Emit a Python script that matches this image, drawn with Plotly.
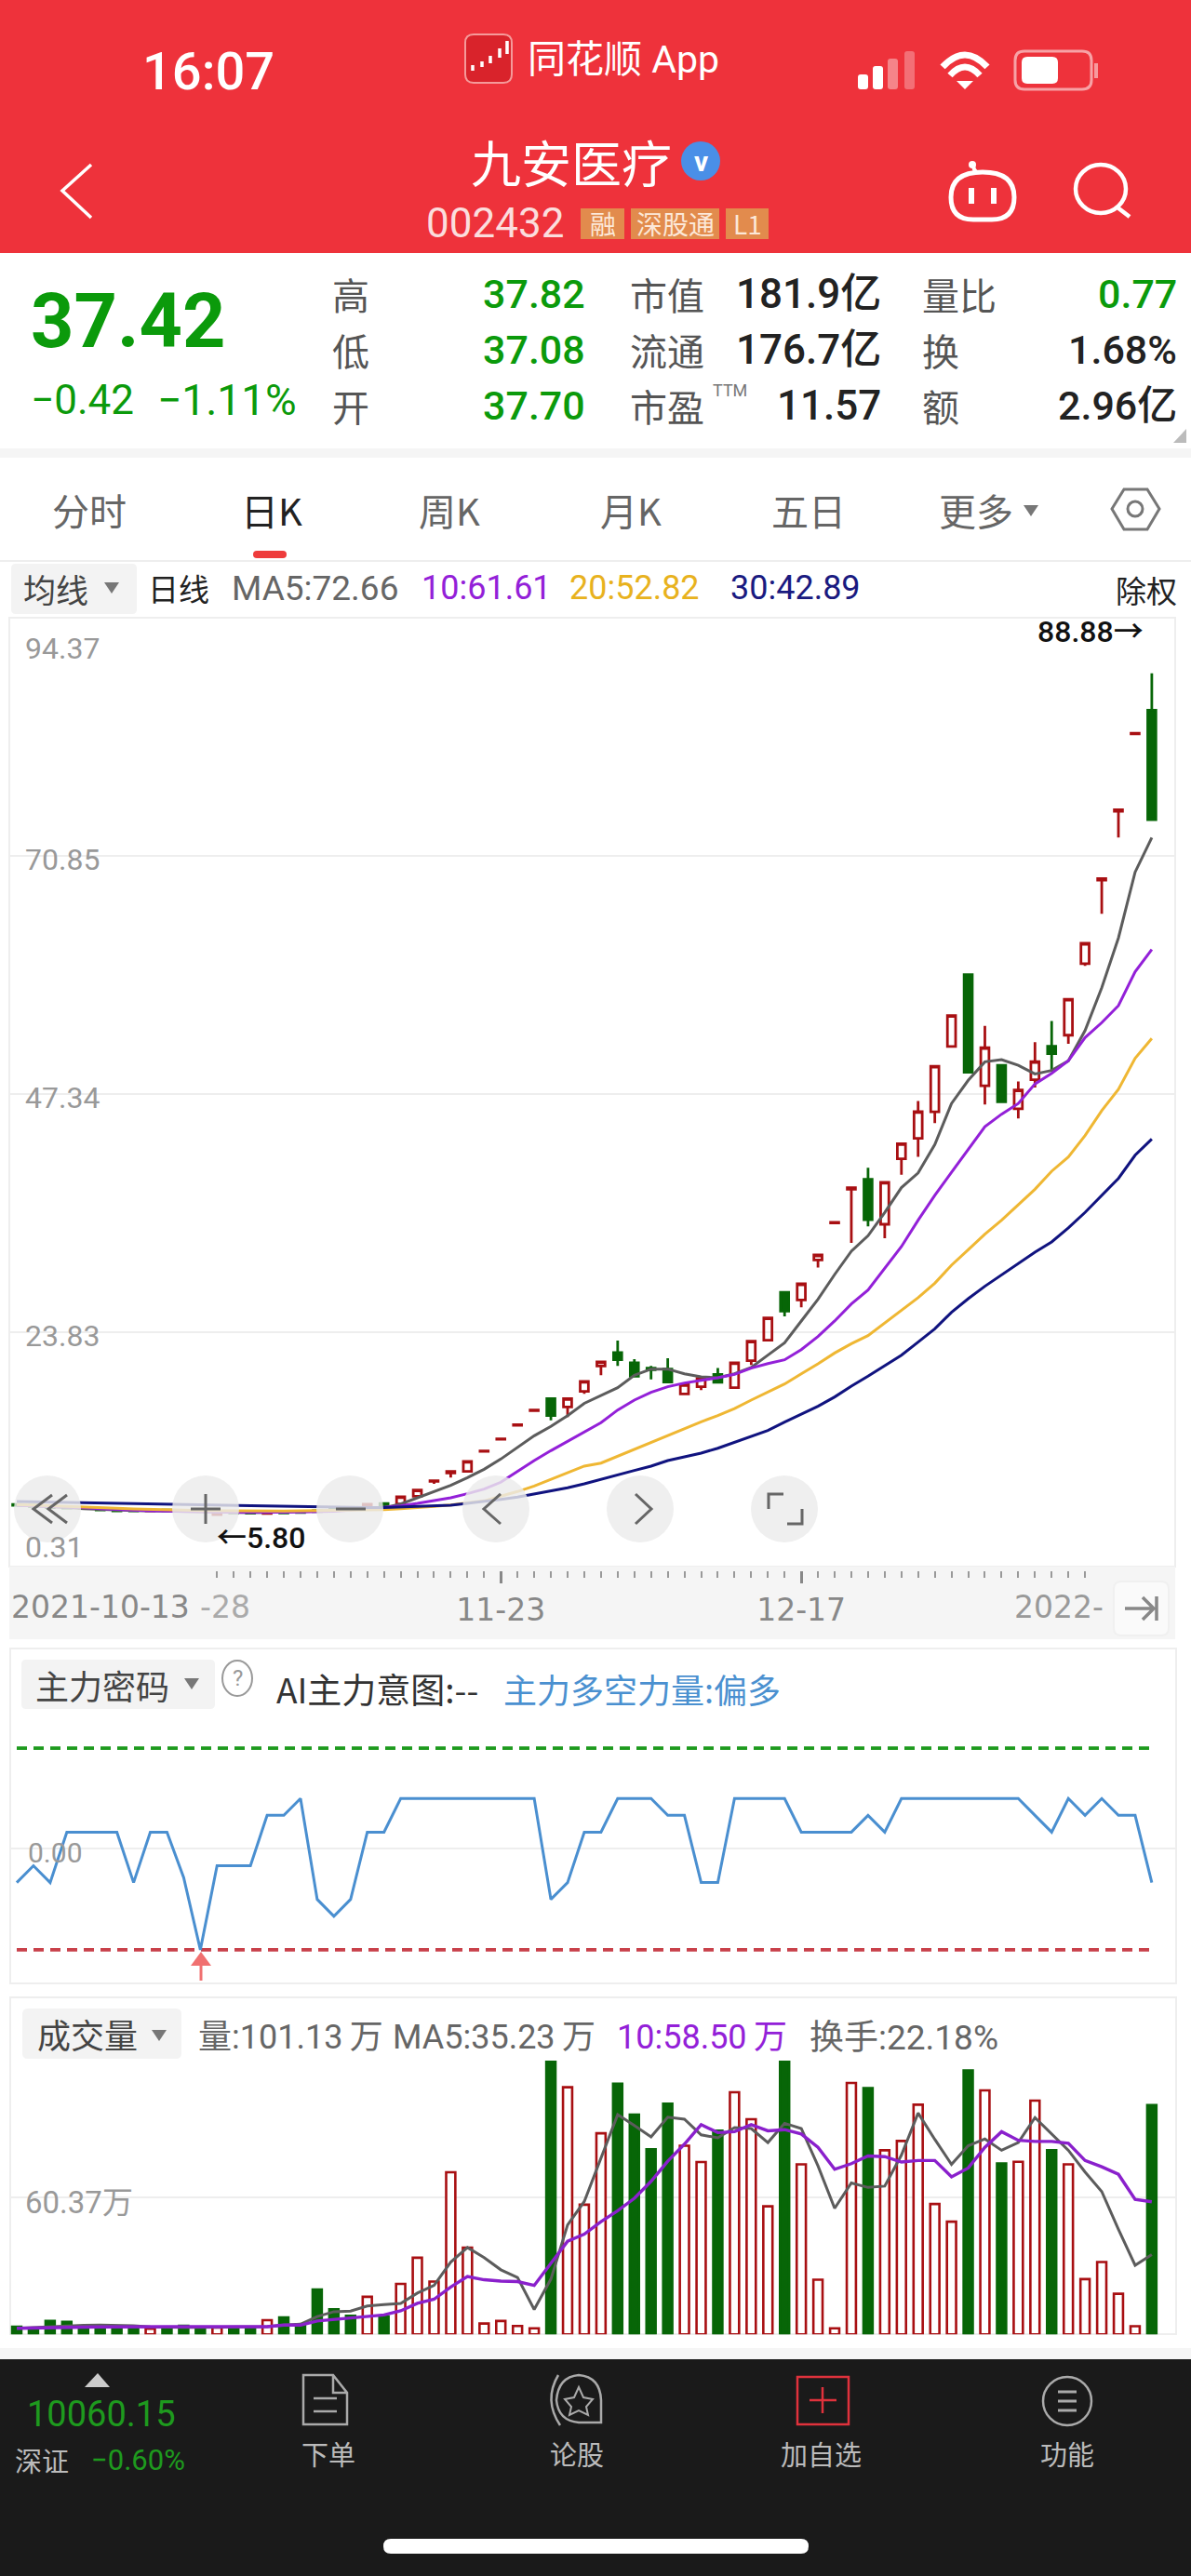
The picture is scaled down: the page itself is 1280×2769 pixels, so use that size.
import re
import plotly.graph_objects as go

W, H = 1280, 2769

# candles, one per trading day
opens = [6.82, 6.75, 6.65, 6.55, 6.50, 6.38, 6.28, 6.28, 6.18, 6.26, 6.22, 6.34, 5.82, 6.05, 6.00, 5.92, 6.05, 6.10, 6.20, 6.40, 6.45, 6.60, 6.92,
         6.86, 7.63, 9.10, 9.93, 10.08, 12.05, 13.25, 14.64, 16.08, 17.27, 16.45, 17.98, 20.49, 21.81, 20.80, 20.27, 20.18, 17.73, 18.44, 19.66,
         18.34, 21.01, 23.03, 27.75, 27.01, 30.96, 34.60, 37.95, 38.92, 34.48, 40.95, 42.96, 45.59, 52.03, 59.13, 48.16, 50.17, 45.88, 48.76,
         52.06, 53.15, 60.22, 68.45, 75.25, 82.90, 85.25]
highs = [6.85, 6.78, 6.68, 6.58, 6.52, 6.40, 6.30, 6.30, 6.28, 6.28, 6.24, 6.36, 5.95, 6.07, 6.02, 6.02, 6.07, 6.12, 6.22, 6.42, 6.47, 6.87, 6.94,
         7.57, 8.24, 9.16, 10.08, 11.06, 12.10, 13.30, 14.69, 16.13, 17.27, 17.27, 18.96, 20.89, 23.00, 21.16, 20.49, 21.25, 18.65, 19.26, 20.28,
         20.80, 22.94, 25.24, 27.75, 28.60, 31.45, 34.67, 38.10, 40.07, 38.62, 42.43, 46.65, 50.09, 55.09, 59.13, 54.07, 50.17, 48.58, 52.45,
         54.56, 56.70, 62.22, 68.62, 75.41, 82.96, 88.88]
lows = [6.70, 6.60, 6.48, 6.43, 6.38, 6.26, 6.16, 6.16, 6.16, 6.16, 6.12, 6.22, 5.80, 5.96, 5.93, 5.90, 5.96, 6.00, 6.08, 6.28, 6.33, 6.58, 6.73,
        6.84, 7.60, 8.85, 9.47, 10.05, 12.05, 13.25, 14.64, 16.08, 15.13, 15.44, 17.73, 19.57, 20.49, 19.40, 19.17, 18.80, 17.70, 18.10, 18.74,
        18.30, 20.58, 23.00, 25.39, 26.28, 30.20, 34.60, 32.64, 34.27, 33.10, 39.38, 41.13, 44.47, 52.00, 49.50, 46.30, 46.58, 44.93, 47.99,
        49.64, 52.31, 60.00, 65.14, 72.66, 82.90, 74.42]
closes = [6.72, 6.62, 6.50, 6.45, 6.40, 6.28, 6.18, 6.18, 6.26, 6.18, 6.14, 6.24, 5.92, 5.98, 5.95, 6.00, 5.98, 6.02, 6.10, 6.30, 6.35, 6.85, 6.75,
          7.57, 8.24, 9.16, 10.08, 11.06, 12.10, 13.30, 14.69, 16.13, 15.59, 17.27, 18.96, 20.89, 21.10, 19.48, 20.12, 18.90, 18.65, 19.26, 18.87,
          20.80, 22.94, 25.24, 25.91, 28.60, 31.45, 34.67, 38.10, 34.94, 38.62, 42.43, 45.60, 50.09, 55.09, 49.50, 51.92, 46.58, 47.74, 50.55,
          51.33, 56.70, 62.22, 68.62, 75.41, 82.96, 74.42]

ma5 = [6.75, 6.68, 6.60, 6.50, 6.40, 6.32, 6.26, 6.22, 6.18, 6.15, 6.12, 6.08, 6.04, 6.00, 6.00, 6.02, 6.06, 6.10, 6.15, 6.22, 6.32, 6.42, 6.50,
       6.86, 7.48, 8.09, 8.70, 9.47, 10.29, 11.30, 12.44, 13.60, 14.52, 15.59, 16.80, 17.58, 18.35, 19.57, 20.18, 20.18, 19.72, 19.42, 19.33,
       19.72, 20.34, 21.56, 22.78, 24.93, 27.07, 29.52, 31.82, 33.35, 35.65, 38.10, 39.55, 42.36, 46.40, 48.69, 50.52, 50.73, 50.17, 49.32,
       49.67, 50.62, 53.61, 57.83, 62.75, 69.25, 72.66]
ma10 = [6.75, 6.70, 6.65, 6.60, 6.50, 6.40, 6.30, 6.25, 6.20, 6.15, 6.12, 6.10, 6.07, 6.05, 6.03, 6.03, 6.05, 6.07, 6.10, 6.15, 6.25, 6.40, 6.50,
        6.68, 6.92, 7.17, 7.48, 7.88, 8.33, 9.01, 10.08, 11.15, 12.13, 13.05, 13.97, 14.89, 16.14, 17.12, 17.89, 18.44, 18.81, 19.05, 19.33,
        19.66, 20.28, 20.72, 21.10, 22.11, 23.40, 24.93, 26.61, 27.99, 30.13, 32.28, 34.88, 37.33, 39.62, 41.83, 44.12, 45.35, 46.40, 48.34,
        49.39, 50.62, 52.91, 54.39, 56.07, 59.41, 61.61]
ma20 = [6.80, 6.75, 6.70, 6.65, 6.58, 6.50, 6.44, 6.38, 6.32, 6.28, 6.25, 6.22, 6.20, 6.18, 6.16, 6.15, 6.16, 6.18, 6.20, 6.24, 6.27, 6.30, 6.31,
        6.40, 6.50, 6.62, 6.77, 6.96, 7.17, 7.63, 8.09, 8.64, 9.31, 9.99, 10.60, 10.90, 11.58, 12.28, 12.99, 13.66, 14.37, 14.98, 15.59,
        16.29, 17.12, 17.89, 18.71, 19.72, 20.70, 21.77, 22.69, 23.49, 24.71, 26.00, 27.23, 28.66, 30.44, 31.97, 33.50, 34.88, 36.41, 37.94,
        39.72, 41.13, 43.24, 45.70, 47.81, 50.87, 52.82]
ma30 = [7.10, 7.07, 7.04, 7.01, 6.98, 6.95, 6.92, 6.89, 6.86, 6.83, 6.77, 6.74, 6.71, 6.68, 6.65, 6.62, 6.59, 6.56, 6.56, 6.53, 6.53, 6.50, 6.50,
        6.56, 6.62, 6.68, 6.74, 6.92, 7.10, 7.32, 7.54, 7.84, 8.15, 8.46, 8.85, 9.31, 9.77, 10.17, 10.60, 11.15, 11.52, 11.88, 12.37,
        12.93, 13.51, 14.12, 14.95, 15.74, 16.51, 17.43, 18.50, 19.48, 20.49, 21.56, 22.85, 24.16, 25.79, 27.13, 28.36, 29.46, 30.59, 31.73,
        32.74, 34.12, 35.65, 37.33, 39.01, 41.30, 42.89]

# 主力密码 line, in its own steps
force_line = [-2, -1, -2, 1, 1, 1, 1, -2, 1, 1, -1.7, -6, -1, -1, -1, 2, 2, 3, -3, -4, -3, 1, 1, 3, 3, 3, 3, 3, 3, 3, 3, 3, -3, -2, 1, 1, 3, 3, 3,
              2, 2, -2, -2, 3, 3, 3, 3, 1, 1, 1, 1, 2, 1, 3, 3, 3, 3, 3, 3, 3, 3, 2, 1, 3, 2, 3, 2, 2, -2]
force_top = 6
force_bottom = -6

# volume in 万
volume = [3.4, 2.2, 5.9, 5.5, 3.1, 3.8, 3.6, 2.7, 2.5, 3.0, 3.8, 3.0, 3.0, 3.0, 3.0, 6.3, 7.5, 4.5, 19.8, 11.1, 8.2, 16.6, 7.9,
          22.3, 33.8, 23.3, 71.5, 38.3, 4.8, 5.9, 3.7, 2.7, 120.7, 109.0, 57.2, 88.7, 110.6, 96.9, 81.6, 101.7, 83.2, 76.0, 89.8,
          106.8, 94.9, 56.5, 120.5, 75.0, 24.1, 2.7, 110.9, 108.6, 81.2, 85.3, 101.3, 57.5, 49.7, 116.4, 107.6, 75.4, 76.1, 103.1,
          81.2, 75.0, 24.4, 31.9, 17.9, 3.6, 101.13]
vol_ma5 = [2.7, 3.1, 3.4, 3.7, 4.0, 4.1, 4.1, 3.8, 3.3, 3.1, 3.1, 3.1, 3.1, 3.1, 3.1, 3.4, 4.1, 4.5, 7.9, 10.0, 10.3, 12.5, 13.1,
           13.7, 18.2, 21.6, 31.9, 38.3, 33.9, 28.5, 25.1, 11.0, 24.4, 48.3, 58.6, 77.8, 96.9, 92.1, 87.1, 95.8, 94.9, 88.0, 86.7,
           91.2, 90.8, 84.6, 93.1, 90.8, 74.3, 55.6, 66.8, 64.8, 65.4, 79.1, 97.6, 86.0, 75.0, 83.2, 86.2, 81.2, 84.6, 95.6,
           88.4, 81.2, 71.6, 63.0, 46.3, 30.5, 35.23]
vol_ma10 = [2.7, 2.9, 3.0, 3.1, 3.2, 3.3, 3.4, 3.4, 3.4, 3.4, 3.4, 3.4, 3.4, 3.4, 3.4, 3.4, 4.1, 4.1, 5.9, 6.6, 7.3, 8.2, 8.6,
            10.4, 13.7, 15.5, 20.9, 25.5, 24.1, 23.5, 23.3, 21.6, 31.2, 41.1, 44.2, 49.7, 54.5, 60.0, 67.5, 76.4, 83.9, 92.5, 89.0,
            89.4, 92.5, 89.8, 90.3, 88.4, 82.5, 72.8, 75.3, 78.7, 78.4, 76.0, 76.7, 76.7, 69.5, 73.4, 82.5, 89.4, 85.6, 85.1,
            85.1, 84.3, 76.7, 73.9, 70.6, 59.5, 58.5]

price_ticks = [94.37, 70.85, 47.34, 23.83, 0.31]
date_ticks = [29, 47]
date_labels = ["11-23", "12-17"]
volume_tick = 60.37

RED = "#A80F12"
GREEN = "#076607"
CJK = "Noto Sans CJK SC"
NUM = "Roboto, Noto Sans CJK SC"
DATE = "DejaVu Sans"

days = list(range(len(closes)))
shapes = []
notes = []


def fx(x):
    return x / W


def fy(y):
    return 1 - y / H


def rect(x0, y0, x1, y1, fill=None, line=None, lw=0, layer="below"):
    shapes.append(dict(type="rect", xref="paper", yref="paper", x0=fx(x0), x1=fx(x1), y0=fy(y0), y1=fy(y1),
                       fillcolor=fill or "rgba(0,0,0,0)", line=dict(color=line or "rgba(0,0,0,0)", width=lw), layer=layer))


def oval(cx, cy, rx, ry, fill=None, line=None, lw=0, layer="below"):
    shapes.append(dict(type="circle", xref="paper", yref="paper", x0=fx(cx - rx), x1=fx(cx + rx), y0=fy(cy - ry), y1=fy(cy + ry),
                       fillcolor=fill or "rgba(0,0,0,0)", line=dict(color=line or "rgba(0,0,0,0)", width=lw), layer=layer))


def path(d, line=None, lw=2, fill=None, layer="below"):
    # d is written in page pixels, plotly wants paper fractions here
    out = []
    is_x = True
    for tok in re.findall(r"[MLCQZ]|-?\d+\.?\d*", d):
        if tok.isalpha():
            out.append(tok)
            is_x = True
        else:
            v = float(tok)
            out.append(f"{fx(v) if is_x else fy(v):.5f}")
            is_x = not is_x
    shapes.append(dict(type="path", xref="paper", yref="paper", path=" ".join(out),
                       fillcolor=fill or "rgba(0,0,0,0)", line=dict(color=line or "rgba(0,0,0,0)", width=lw), layer=layer))


def round_rect(x0, y0, x1, y1, r, fill=None, line=None, lw=0):
    path(f"M{x0 + r} {y0} L{x1 - r} {y0} Q{x1} {y0} {x1} {y0 + r} L{x1} {y1 - r} Q{x1} {y1} {x1 - r} {y1} "
         f"L{x0 + r} {y1} Q{x0} {y1} {x0} {y1 - r} L{x0} {y0 + r} Q{x0} {y0} {x0 + r} {y0} Z", line=line, lw=lw, fill=fill)


def text(x, y, s, size, color, anchor="left", family=CJK, weight=400):
    notes.append(dict(xref="paper", yref="paper", x=fx(x), y=fy(y), text=s, showarrow=False, xanchor=anchor, yanchor="middle",
                      borderpad=0, font=dict(family=family, size=size, color=color, weight=weight)))


# header
rect(0, 0, W, 272, fill="#EE323B")
text(152, 77, "16:07", 56, "#FFFFFF", family=NUM, weight=500)
round_rect(500, 37, 550, 89, 9, fill="#D9232B", line="#F59A9A", lw=2)
path("M508 70 L508 76 M518 66 L518 72 M527 60 L527 68 M537 52 L537 62 M545 44 L545 58", line="#FFFFFF", lw=3.5)
text(566, 64, "同花顺 App", 41, "#FFFFFF", family=NUM)
for sx, sy, col in [(922, 80, "#FFFFFF"), (938, 71, "#FFFFFF"), (954, 63, "rgba(255,255,255,0.4)"), (972, 55, "rgba(255,255,255,0.3)")]:
    round_rect(sx, sy, sx + 11, 96, 3, fill=col)
path("M1013 72 Q1037 46 1061 72", line="#FFFFFF", lw=7)
path("M1021 81 Q1037 63 1053 81", line="#FFFFFF", lw=7)
path("M1028 87 L1046 87 L1037 96 Z", fill="#FFFFFF", lw=0)
round_rect(1091, 55, 1173, 96, 10, line="rgba(255,255,255,0.55)", lw=3)
round_rect(1098, 61, 1137, 90, 6, fill="#FFFFFF")
rect(1176, 68, 1180, 84, fill="rgba(255,255,255,0.5)")
path("M98 177 L67 205 L98 234", line="#FFFFFF", lw=3.5)
text(614, 173, "九安医疗", 54, "#FFFFFF", anchor="center")
oval(753, 173, 21, 21, fill="#4A8FE7")
text(753, 173, "<b>v</b>", 30, "#FFFFFF", anchor="center", family=NUM)
text(457, 240, "002432", 44, "#FBDDDD", family=NUM)
for bx0, bx1, label, sz in [(624, 671, "融", 28), (678, 773, "深股通", 28), (780, 826, "L1", 28)]:
    rect(bx0, 224, bx1, 257, fill="#E28B4D")
    text((bx0 + bx1) / 2, 240, label, sz, "#FCE8D8", anchor="center")
# robot and search icons
path("M1056 185 Q1090 185 1090 212 Q1090 236 1066 236 L1046 236 Q1022 236 1022 212 Q1022 185 1056 185 Z", line="#FFFFFF", lw=5)
path("M1050 186 Q1046 182 1046 178", line="#FFFFFF", lw=4)
oval(1045, 177, 4, 4, fill="#FFFFFF")
rect(1041, 202, 1047, 219, fill="#FFFFFF")
rect(1065, 202, 1071, 219, fill="#FFFFFF")
oval(1183, 203, 27, 26, line="#FFFFFF", lw=4.5)
path("M1201 223 L1214 233", line="#FFFFFF", lw=4.5)

# quote block
text(32, 345, "<b>37.42</b>", 81, "#0B9A0B", family=NUM)
text(32, 430, "\u22120.42", 44, "#0B9A0B", family=NUM)
text(168, 430, "\u22121.11%", 46, "#0B9A0B", family=NUM)
for row_y, lab1, val1, lab2, val2, lab3, val3, col3 in [
    (316, "高", "37.82", "市值", "181.9亿", "量比", "0.77", "#0B9A0B"),
    (376, "低", "37.08", "流通", "176.7亿", "换", "1.68%", "#222222"),
    (436, "开", "37.70", "市盈", "11.57", "额", "2.96亿", "#222222"),
]:
    text(356, row_y, lab1, 40, "#555555")
    text(630, row_y, val1, 43, "#0B9A0B", anchor="right", family=NUM, weight=500)
    text(676, row_y, lab2, 40, "#555555")
    text(948, row_y, val2, 44, "#222222", anchor="right", family=NUM, weight=500)
    text(990, row_y, lab3, 40, "#555555")
    text(1266, row_y, val3, 43, col3, anchor="right", family=NUM, weight=500)
text(765, 419, "TTM", 18, "#777777", family=NUM)
path("M1261 476 L1275 461 L1275 476 Z", fill="#BBBBBB", lw=0)
rect(0, 482, W, 492, fill="#F5F5F5")

# period tabs
for tx, label, col in [(96, "分时", "#666666"), (292, "日K", "#222222"), (483, "周K", "#666666"),
                       (678, "月K", "#666666"), (869, "五日", "#666666"), (1049, "更多", "#666666")]:
    text(tx, 548, label, 40, col, anchor="center")
path("M1100 543 L1116 543 L1108 555 Z", fill="#777777", lw=0)
path("M1195 547 L1208 526 L1233 526 L1246 547 L1233 569 L1208 569 Z", line="#777777", lw=3)
oval(1220, 547, 8, 8, line="#777777", lw=3)
round_rect(272, 592, 308, 600, 4, fill="#EE3B3B")
rect(0, 602, W, 604, fill="#EEEEEE")

# MA legend row
round_rect(12, 606, 147, 660, 5, fill="#F3F3F3")
text(24, 632, "均线", 35, "#444444")
path("M112 626 L128 626 L120 638 Z", fill="#777777", lw=0)
text(158, 632, "日线", 33, "#222222")
text(248, 632, "MA5:72.66", 37, "#666666", family=NUM)
text(452, 632, "10:61.61", 36, "#9320D8", family=NUM)
text(611, 632, "20:52.82", 36, "#E8B21E", family=NUM)
text(784, 632, "30:42.89", 36, "#1A1A80", family=NUM)
text(1198, 634, "除权", 33, "#222222")

# price panel frame and date strip
rect(10, 664, 1263, 1684, line="#EEEEEE", lw=2)
rect(10, 1684, 1263, 1762, fill="#F5F5F5")
for label_y, tick in zip([697, 924, 1180, 1436, 1663], price_ticks):
    text(26, label_y, f"{tick:.2f}", 32, "#999999", family=NUM)
text(1114, 679, "88.88→", 32, "#111111", family=NUM, weight=500)
text(232, 1653, "←5.80", 32, "#111111", family=NUM, weight=500)
text(11, 1727, "2021-10-13", 33, "#888888", family=DATE)
text(214, 1727, "-28", 33, "#AAAAAA", family=DATE)
text(1089, 1727, "2022-", 33, "#999999", family=DATE)
round_rect(1197, 1700, 1256, 1758, 8, fill="#FAFAFA", line="#F0F0F0", lw=2)
path("M1209 1729 L1239 1729 M1228 1717 L1240 1729 L1228 1741 M1243 1716 L1243 1742", line="#888888", lw=3.5)

# chart buttons, they sit over the lines
for cx in [51, 221, 376, 533, 688, 843]:
    oval(cx, 1622, 36, 36, fill="rgba(236,236,236,0.82)", layer="above")
path("M56 1607 L36 1622 L56 1637 M72 1607 L52 1622 L72 1637", line="#666666", lw=3, layer="above")
path("M205 1622 L237 1622 M221 1606 L221 1638", line="#666666", lw=3, layer="above")
path("M361 1622 L393 1622", line="#666666", lw=3, layer="above")
path("M538 1606 L520 1622 L538 1638", line="#666666", lw=3, layer="above")
path("M683 1606 L700 1622 L683 1638", line="#666666", lw=3, layer="above")
path("M826 1622 L826 1606 L842 1606 M862 1622 L862 1638 L846 1638", line="#666666", lw=3, layer="above")

# 主力密码 panel
rect(11, 1772, 1264, 2132, line="#EEEEEE", lw=2)
round_rect(23, 1784, 231, 1837, 5, fill="#F3F3F3")
text(37, 1811, "主力密码", 36, "#444444")
path("M198 1804 L214 1804 L206 1816 Z", fill="#777777", lw=0)
oval(255, 1804, 16, 19, line="#999999", lw=2)
text(255, 1804, "?", 24, "#999999", anchor="center", family=NUM)
text(296, 1815, "AI主力意图:--", 37, "#333333")
text(540, 1815, "主力多空力量:偏多", 36, "#4A90D0")
text(29, 1991, "0.00", 30, "#999999", family=NUM)
path("M216 2129 L216 2108", line="#F07070", lw=3)
path("M205 2113 L216 2098 L227 2113 Z", fill="#F07070", lw=0)

# volume panel
rect(11, 2147, 1264, 2509, line="#EEEEEE", lw=2)
round_rect(24, 2159, 195, 2213, 6, fill="#F3F3F3")
text(39, 2186, "成交量", 36, "#444444")
path("M163 2182 L179 2182 L171 2194 Z", fill="#777777", lw=0)
text(212, 2190, "量:101.13\u2009万", 36, "#666666", family=NUM)
text(421, 2190, "MA5:35.23\u2009万", 36, "#666666", family=NUM)
text(662, 2190, "10:58.50\u2009万", 36, "#9320D8", family=NUM)
text(869, 2190, "换手:22.18%", 37, "#666666", family=NUM)
text(26, 2367, "60.37万", 33, "#999999", family=NUM)

# bottom bar
rect(0, 2524, W, 2536, fill="#F5F5F5")
rect(0, 2536, W, H, fill="#1A1A1A")
path("M91 2566 L118 2566 L105 2551 Z", fill="#CCCCCC", lw=0)
text(28, 2595, "10060.15", 38, "#1E9A1E", family=NUM)
text(15, 2644, "深证", 29, "#BBBBBB")
text(97, 2644, "\u22120.60%", 31, "#1E9A1E", family=NUM)
path("M326 2553 L358 2553 L373 2572 L373 2606 L326 2606 Z M358 2553 L358 2572 L373 2572", line="#AAAAAA", lw=2.5)
path("M337 2578 L362 2578 M337 2592 L362 2592", line="#AAAAAA", lw=2.5)
text(353, 2637, "下单", 29, "#BBBBBB", anchor="center")
path("M600 2553 Q584 2580 602 2607", line="#AAAAAA", lw=2.5)
path("M622 2553 Q645 2555 646 2580 L646 2604 L622 2604 Q600 2602 598 2580 Q600 2555 622 2553 Z", line="#AAAAAA", lw=2.5)
path("M622 2566 L627 2577 L637 2579 L630 2587 L632 2596 L622 2591 L612 2596 L614 2587 L607 2579 L617 2577 Z", line="#AAAAAA", lw=2)
text(620, 2637, "论股", 29, "#BBBBBB", anchor="center")
rect(857, 2555, 912, 2606, line="#E0323C", lw=2.5)
path("M870 2580 L899 2580 M884 2566 L884 2594", line="#E0323C", lw=2.5)
text(882, 2637, "加自选", 29, "#BBBBBB", anchor="center")
oval(1147, 2581, 26, 26, line="#AAAAAA", lw=2.5)
path("M1137 2571 L1157 2571 M1137 2581 L1157 2581 M1137 2591 L1157 2591", line="#AAAAAA", lw=3)
text(1147, 2637, "功能", 29, "#BBBBBB", anchor="center")
round_rect(412, 2729, 869, 2745, 8, fill="#FFFFFF")

fig = go.Figure()
fig.add_trace(go.Candlestick(x=days, open=opens, high=highs, low=lows, close=closes, whiskerwidth=0, xaxis="x", yaxis="y",
                             increasing=dict(line=dict(color=RED, width=2.8), fillcolor="rgba(255,255,255,0)"),
                             decreasing=dict(line=dict(color=GREEN, width=2.8), fillcolor=GREEN)))
for vals, col in [(ma5, "#5C5C5C"), (ma10, "#9320D8"), (ma20, "#EFB733"), (ma30, "#10137F")]:
    fig.add_trace(go.Scatter(x=days, y=vals, mode="lines", line=dict(color=col, width=3), xaxis="x", yaxis="y"))

fig.add_trace(go.Scatter(x=days, y=[force_top] * len(days), mode="lines", line=dict(color="#1E9A1E", width=3.6, dash="11px,7px"), xaxis="x2", yaxis="y2"))
fig.add_trace(go.Scatter(x=days, y=[force_bottom] * len(days), mode="lines", line=dict(color="#C8404A", width=3.6, dash="11px,7px"), xaxis="x2", yaxis="y2"))
fig.add_trace(go.Scatter(x=days, y=force_line, mode="lines", line=dict(color="#4A8FD0", width=3), xaxis="x2", yaxis="y2"))

bar_fill = ["#FFFFFF" if c > o else GREEN for o, c in zip(opens, closes)]
bar_edge = [RED if c > o else GREEN for o, c in zip(opens, closes)]
fig.add_trace(go.Bar(x=days, y=volume, width=0.55, marker=dict(color=bar_fill, line=dict(color=bar_edge, width=2.6)), xaxis="x3", yaxis="y3"))
fig.add_trace(go.Scatter(x=days, y=vol_ma5, mode="lines", line=dict(color="#5C5C5C", width=3), xaxis="x3", yaxis="y3"))
fig.add_trace(go.Scatter(x=days, y=vol_ma10, mode="lines", line=dict(color="#8A20CC", width=3.4), xaxis="x3", yaxis="y3"))

x_dom = [fx(10), fx(1263)]
x_range = [-0.446, 69.4]
hidden_x = dict(domain=x_dom, range=x_range, showgrid=False, zeroline=False, showticklabels=False, ticks="")
hidden_y = dict(zeroline=False, showticklabels=False, ticks="", gridcolor="#EEEEEE", gridwidth=2)

fig.update_layout(
    width=W, height=H, margin=dict(l=0, r=0, t=0, b=0), autosize=False,
    paper_bgcolor="#FFFFFF", plot_bgcolor="rgba(0,0,0,0)", showlegend=False, boxgap=0.3, barmode="overlay",
    shapes=shapes, annotations=notes, hovermode=False,
    xaxis=dict(domain=x_dom, range=x_range, anchor="y", rangeslider=dict(visible=False), showgrid=False, zeroline=False,
               tickmode="array", tickvals=date_ticks, ticktext=date_labels, ticks="outside", ticklen=13, tickwidth=2.5, tickcolor="#888888",
               tickfont=dict(family=DATE, size=33, color="#888888"),
               minor=dict(tickmode="array", tickvals=list(range(12, 65)), ticks="outside", ticklen=7, tickwidth=1.5, tickcolor="#999999", showgrid=False)),
    yaxis=dict(domain=[fy(1688), fy(664)], range=[0.31, 94.37], anchor="x", tickmode="array", tickvals=price_ticks, **hidden_y),
    xaxis2=dict(anchor="y2", **hidden_x),
    yaxis2=dict(domain=[fy(2132), fy(1772)], range=[-8.0, 11.93], anchor="x2", tickmode="array", tickvals=[0], **hidden_y),
    xaxis3=dict(anchor="y3", **hidden_x),
    yaxis3=dict(domain=[fy(2509.3), fy(2215)], range=[0, 120.74], anchor="x3", tickmode="array", tickvals=[volume_tick], **hidden_y),
)

fig.write_html("out.html", config=dict(displayModeBar=False),
               post_script="document.body.style.margin='0';document.body.style.overflow='hidden';")
